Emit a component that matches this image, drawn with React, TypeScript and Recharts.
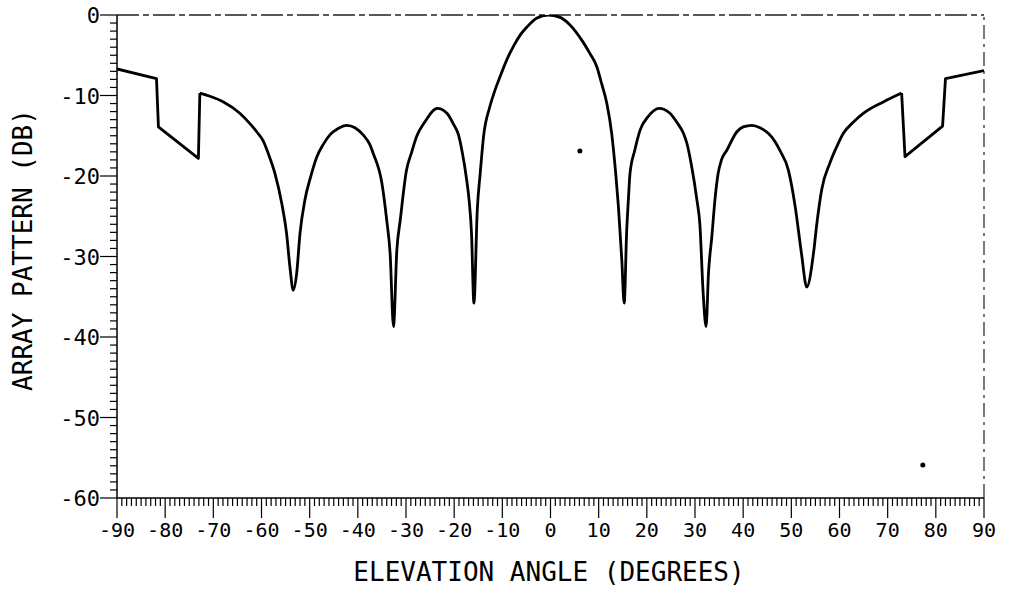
import {
  ComposedChart,
  Line,
  Scatter,
  XAxis,
  YAxis,
  ReferenceLine,
} from 'recharts'

// elevation angle (deg) and array pattern (dB)
// stepped outer parts (drawn straight)
const LEFT_EDGE_ANGLES = [-90, -81.8, -81.4, -73.1, -72.8]
const LEFT_EDGE_DB = [-6.7, -7.9, -13.9, -17.8, -9.7]
const RIGHT_EDGE_ANGLES = [72.9, 73.6, 81.4, 82.0, 90]
const RIGHT_EDGE_DB = [-9.7, -17.6, -13.8, -7.9, -6.9]

// main lobe and side lobes (drawn smooth)
const LOBE_ANGLES = [
  -72.8, -70.7, -67.9, -64.5, -62.4, -61.0, -59.6, -58.6, -57.2, -55.8,
  -54.8, -54.1, -53.4, -52.7, -52.0, -51.0, -49.8, -48.5, -47.2, -45.8, -44.1, -42.3, -40.6,
  -38.9, -37.5, -36.8, -35.0, -34.0, -33.3, -32.6, -31.9, -31.2, -29.9, -28.8, -27.8, -26.1,
  -23.5, -21.5, -20.2, -19.1, -18.4, -17.4, -16.9, -16.4, -15.9, -15.2, -14.6, -13.9, -12.6,
  -11.5, -10.5, -9.1, -7.7, -6.3, -4.9, -2.9, -0.5, 2.0, 4.0, 6.8, 8.2, 9.6, 10.6, 11.7, 12.7,
  13.6, 14.1, 14.8, 15.3, 15.8, 16.2, 16.5, 17.5, 18.6, 20.3, 22.5, 24.8, 26.2, 27.6, 28.3,
  29.3, 30.4, 31.0, 31.7, 32.3, 32.8, 33.5, 34.2, 34.8, 35.5, 36.6, 38.7, 40.0, 41.8, 43.5,
  45.2, 46.6, 47.6, 49.4, 50.8, 52.1, 53.2, 54.6, 55.3, 56.3, 58.0, 59.4, 60.8, 62.9, 65.0,
  69.1, 72.9,
]
const LOBE_DB = [
  -9.7, -10.1, -10.8, -12.2, -13.5, -14.5, -15.7, -17.2, -19.7, -23.4,
  -27.1, -31.3, -34.2, -32.1, -27.1, -23.0, -20.1, -17.6, -16.1, -14.9, -14.1, -13.7, -14.0,
  -14.9, -16.1, -17.2, -20.9, -25.5, -29.6, -38.7, -29.2, -25.5, -19.3, -17.0, -15.1, -13.3,
  -11.6, -12.2, -13.5, -14.9, -16.8, -20.5, -23.0, -27.1, -35.8, -24.2, -19.7, -15.1, -11.4,
  -9.3, -7.7, -5.6, -3.9, -2.5, -1.5, -0.4, 0, -0.3, -1.2, -3.4, -4.8, -6.4, -8.5, -11.0, -14.7,
  -20.1, -23.8, -30.4, -35.8, -27.1, -22.6, -19.7, -16.8, -14.3, -12.6, -11.6, -12.2, -13.3,
  -14.7, -15.9, -18.8, -23.0, -25.9, -34.6, -38.7, -32.1, -27.5, -22.6, -19.7, -18.0, -16.8,
  -14.5, -13.9, -13.7, -14.0, -14.7, -15.7, -16.8, -19.3, -23.8, -29.6, -33.8, -29.6, -25.9,
  -21.7, -18.4, -16.4, -14.7, -13.3, -12.2, -10.8, -9.7,
]

// stray specks on the original plot
const SPECK_ANGLES = [6.1, 77.3]
const SPECK_DB = [-16.9, -55.9]

const X_MAJOR = [-90, -80, -70, -60, -50, -40, -30, -20, -10, 0, 10, 20, 30, 40, 50, 60, 70, 80, 90]
const Y_MAJOR = [-60, -50, -40, -30, -20, -10, 0]
const X_TICKS = Array.from({ length: 181 }, (_, i) => i - 90)
const Y_TICKS = Array.from({ length: 61 }, (_, i) => i - 60)

const FONT = '"DejaVu Sans Mono", monospace'

const toPoints = (angles: number[], db: number[]) => angles.map((a, i) => ({ angle: a, db: db[i] }))
const leftEdge = toPoints(LEFT_EDGE_ANGLES, LEFT_EDGE_DB)
const rightEdge = toPoints(RIGHT_EDGE_ANGLES, RIGHT_EDGE_DB)
const lobes = toPoints(LOBE_ANGLES, LOBE_DB)
const specks = toPoints(SPECK_ANGLES, SPECK_DB)

const XTick = (props: any) => {
  const { x, y, payload } = props
  const v = payload.value
  const major = X_MAJOR.includes(v)
  return (
    <g>
      <line x1={x} x2={x} y1={y} y2={y + (major ? 20 : 8)} stroke="#000" strokeWidth={1.2} />
      {major && (
        <text x={x} y={y + 39} textAnchor="middle" fontFamily={FONT} fontSize={20} fill="#000">
          {v}
        </text>
      )}
    </g>
  )
}

const YTick = (props: any) => {
  const { x, y, payload } = props
  const v = payload.value
  const major = Y_MAJOR.includes(v)
  return (
    <g>
      <line x1={x - (major ? 17 : 7)} x2={x} y1={y} y2={y} stroke="#000" strokeWidth={1.2} />
      {major && (
        <text x={x - 17} y={y + 8} textAnchor="end" fontFamily={FONT} fontSize={22} fill="#000">
          {v}
        </text>
      )}
    </g>
  )
}

const lineStyle = {
  dataKey: 'db',
  stroke: '#000',
  strokeWidth: 2.8,
  strokeLinejoin: 'round' as const,
  dot: false,
  isAnimationActive: false,
}

export default function App() {
  return (
    <div style={{ position: 'absolute', left: 0, top: 0, width: 1013, height: 598, background: '#fff' }}>
      <ComposedChart width={1013} height={598} margin={{ top: 15, right: 29, left: 0, bottom: 0 }}>
        <XAxis
          dataKey="angle"
          type="number"
          domain={[-90, 90]}
          ticks={X_TICKS}
          interval={0}
          tick={<XTick />}
          tickLine={false}
          tickSize={0}
          tickMargin={0}
          height={100}
          axisLine={{ stroke: '#000', strokeWidth: 1.5 }}
          allowDataOverflow
        />
        <YAxis
          type="number"
          domain={[-60, 0]}
          ticks={Y_TICKS}
          interval={0}
          tick={<YTick />}
          tickLine={false}
          tickSize={0}
          tickMargin={0}
          width={117}
          axisLine={{ stroke: '#000', strokeWidth: 1.5 }}
          allowDataOverflow
        />
        <ReferenceLine y={0} stroke="#222" strokeWidth={1.5} strokeDasharray="22 4 6 4" />
        <ReferenceLine x={90} stroke="#222" strokeWidth={1.2} strokeDasharray="14 5 3 5" />
        <Line data={leftEdge} type="linear" {...lineStyle} />
        <Line data={lobes} type="monotone" {...lineStyle} />
        <Line data={rightEdge} type="linear" {...lineStyle} />
        <Scatter
          data={specks}
          dataKey="db"
          fill="#000"
          shape={(p: any) => <circle cx={p.cx} cy={p.cy} r={2.5} fill="#000" />}
          isAnimationActive={false}
        />
      </ComposedChart>
      <div
        style={{
          position: 'absolute',
          left: 349,
          top: 559,
          width: 400,
          textAlign: 'center',
          fontFamily: FONT,
          fontSize: 26,
          lineHeight: '26px',
          color: '#000',
          whiteSpace: 'nowrap',
        }}
      >
        ELEVATION ANGLE (DEGREES)
      </div>
      <div
        style={{
          position: 'absolute',
          left: 23 - 200,
          top: 250 - 13,
          width: 400,
          height: 26,
          textAlign: 'center',
          fontFamily: FONT,
          fontSize: 26,
          lineHeight: '26px',
          color: '#000',
          whiteSpace: 'nowrap',
          transform: 'rotate(-90deg)',
          transformOrigin: 'center',
        }}
      >
        ARRAY PATTERN (DB)
      </div>
    </div>
  )
}
